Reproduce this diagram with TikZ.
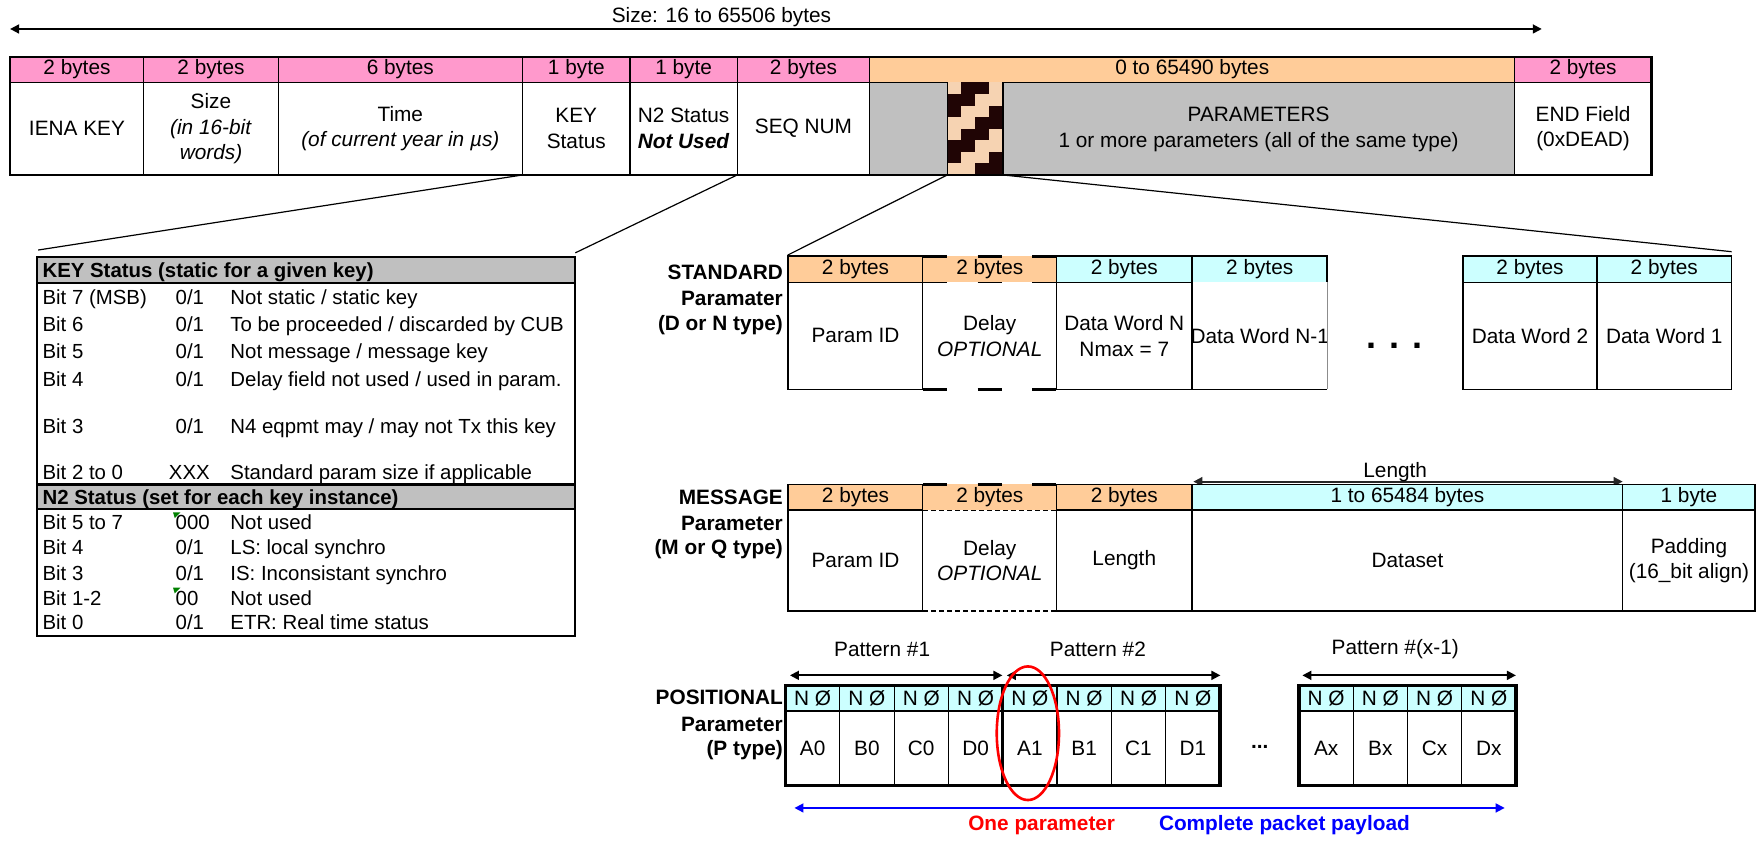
\documentclass[tikz,border=0pt]{standalone}
\usepackage{fontspec}
\setmainfont{Liberation Sans}
\usetikzlibrary{arrows.meta,calc}
\definecolor{hpink}{HTML}{FF99CC}
\definecolor{horange}{HTML}{FFCC99}
\definecolor{hcyan}{HTML}{CCFFFF}
\definecolor{hgray}{HTML}{C0C0C0}
\definecolor{stripdark}{HTML}{200505}
\definecolor{strippeach}{HTML}{F6D3B2}
\definecolor{dblue}{HTML}{0000FF}
\definecolor{dred}{HTML}{FF0000}
\definecolor{xlgreen}{HTML}{008000}
\newcounter{cellc}
% x1 y1 x2 y2 rect-style node-style text
\newcommand\cell[7]{%
  \path[#5] (#1,#2) rectangle (#3,#4);
  \stepcounter{cellc}%
  \node[#6] (cell\arabic{cellc}) at ({(#1+#3)/2},{(#2+#4)/2}) {#7};}
\begin{document}
\begin{tikzpicture}[x=0.5618pt,y=-0.5618pt,
  txt/.style={align=center,inner sep=0pt,font=\fontsize{10.4}{12.7}\selectfont},
  mtxt/.style={txt,font=\fontsize{10.4}{12.9}\selectfont},
  ktxt/.style={anchor=base west,inner sep=0pt,font=\fontsize{10.2}{12}\selectfont},
  ktitle/.style={ktxt,font=\fontsize{10.2}{12}\selectfont\bfseries},
  lbl/.style={anchor=east,inner sep=0pt,align=right,font=\fontsize{10.4}{12}\selectfont\bfseries},
  hP/.style={draw,fill=hpink,line width=0.6pt},
  hO/.style={draw,fill=horange,line width=0.8pt},
  hC/.style={draw,fill=hcyan,line width=0.8pt},
  bW/.style={draw,fill=white,line width=0.8pt},
  conn/.style={line width=0.6pt},
  arr/.style={line width=0.9pt,{Triangle[length=4.5pt,width=4.5pt]}-{Triangle[length=4.5pt,width=4.5pt]}},
  dashthick/.style={line width=1.4pt,dash pattern=on 12pt off 15.2pt},
  dashthin/.style={line width=0.8pt,dash pattern=on 12pt off 15.2pt},
  dashfine/.style={line width=0.6pt,dash pattern=on 2.5pt off 1.5pt},
]
\useasboundingbox (0,0) rectangle (1568,750);

% ---------------- top size arrow
\coordinate (sizeL) at (9,25.8);
\coordinate (sizeR) at (1372,25.8);
\draw[arr] (sizeL) -- (sizeR);
\node[txt] (sizelbl) at (642,14.8) {Size: 16 to 65506 bytes};

% ---------------- main packet table
\cell{9}{50.4}{128}{73.3}{hP}{txt}{2 bytes}
\cell{128}{50.4}{247.5}{73.3}{hP}{txt}{2 bytes}
\cell{247.5}{50.4}{465}{73.3}{hP}{txt}{6 bytes}
\cell{465}{50.4}{560.7}{73.3}{hP}{txt}{1 byte}
\cell{560.7}{50.4}{656}{73.3}{hP}{txt}{1 byte}
\cell{656}{50.4}{774}{73.3}{hP}{txt}{2 bytes}
\cell{774}{50.4}{1348}{73.3}{draw,fill=horange,line width=0.6pt}{txt}{0 to 65490 bytes}
\cell{1348}{50.4}{1469.6}{73.3}{hP}{txt}{2 bytes}
\cell{9}{73.3}{128}{155.7}{draw,line width=0.6pt}{mtxt}{IENA KEY}
\cell{128}{73.3}{247.5}{155.7}{draw,line width=0.6pt}{mtxt}{Size\\\textit{(in 16-bit}\\\textit{words)}}
\cell{247.5}{73.3}{465}{155.7}{draw,line width=0.6pt}{mtxt}{Time\\\textit{(of current year in µs)}}
\cell{465}{73.3}{560.7}{155.7}{draw,line width=0.6pt}{mtxt}{KEY\\Status}
\cell{560.7}{73.3}{656}{155.7}{draw,line width=0.6pt}{mtxt}{N2 Status\\\textbf{\textit{Not Used}}}
\cell{656}{73.3}{774}{155.7}{draw,line width=0.6pt}{mtxt}{SEQ NUM}
\path[draw,fill=hgray,line width=0.6pt] (774,73.3) rectangle (1348,155.7);
\node[mtxt] (params) at (1120,115.5) {PARAMETERS\\1 or more parameters (all of the same type)};
\cell{1348}{73.3}{1469.6}{155.7}{draw,line width=0.6pt}{mtxt}{END Field\\(0xDEAD)}
% patterned strip
\foreach \r in {0,...,7}{\foreach \c in {0,...,3}{%
  \pgfmathtruncatemacro\m{mod(\c+\r,4)}%
  \ifnum\m=1 \def\cc{stripdark}\else\ifnum\m=2 \def\cc{stripdark}\else\def\cc{strippeach}\fi\fi
  \fill[\cc] ({843+\c*12.4},{73.3+\r*10.3}) rectangle ++(12.4,10.3);
}}
\draw[line width=0.8pt] (843,73.3) -- (843,155.7) (892.6,73.3) -- (892.6,155.7);
\draw[line width=1.1pt] (9,50.4) rectangle (1469.6,155.7);

% ---------------- connectors
\coordinate (keyBL) at (465,155.7);
\coordinate (seqBL) at (656,155.7);
\coordinate (stripBL) at (843,155.7);
\coordinate (stripBR) at (892.6,155.7);
\coordinate (ktTL) at (34,222.5);
\coordinate (ktTR) at (512,225);
\coordinate (stdTL) at (701,227);
\coordinate (stdTR) at (1541,224);
\draw[conn] (keyBL) -- (ktTL);
\draw[conn] (seqBL) -- (ktTR);
\draw[conn] (stripBL) -- (stdTL);
\draw[conn] (stripBR) -- (stdTR);

% ---------------- key status table
\fill[hgray] (33,228.6) rectangle (512,252);
\fill[hgray] (33,431) rectangle (512,453);
\draw[line width=1.2pt] (33,252) -- (512,252) (33,431) -- (512,431) (33,453) -- (512,453);
\draw[line width=1pt] (33,228.6) rectangle (512,566);
\node[ktitle] (kt1) at (37.5,246.6) {KEY Status (static for a given key)};
\node[ktitle] (kt2) at (37.5,448.6) {N2 Status (set for each key instance)};
\foreach \yy/\a/\b/\bx/\t [count=\k] in {
  264/Bit 7 (MSB)/0\slash 1/156/Not static \slash\ static key,
  288/Bit 6/0\slash 1/156/To be proceeded \slash\ discarded by CUB,
  312/Bit 5/0\slash 1/156/Not message \slash\ message key,
  337/Bit 4/0\slash 1/156/Delay field not used \slash\ used in param.,
  379/Bit 3/0\slash 1/156/N4 eqpmt may \slash\ may not Tx this key,
  420/Bit 2 to 0/XXX/150/Standard param size if applicable,
  465/Bit 5 to 7/000/156/Not used,
  487/Bit 4/0\slash 1/156/LS: local synchro,
  510/Bit 3/0\slash 1/156/IS: Inconsistant synchro,
  532/Bit 1-2/00/156/Not used,
  554/Bit 0/0\slash 1/156/ETR: Real time status}{
  \node[ktxt] (kra\k) at (37.5,\yy+6.6) {\a};
  \node[ktxt] (krb\k) at (\bx,\yy+6.6) {\b};
  \node[ktxt] (krc\k) at (204.7,\yy+6.6) {\t};
}
\fill[xlgreen] (154,456) -- (160.5,456) -- (155.5,461) -- cycle;
\fill[xlgreen] (154,523) -- (160.5,523) -- (155.5,528) -- cycle;

% ---------------- STANDARD parameter
\node[lbl] (stdl1) at (697,242.6) {STANDARD};
\node[lbl] (stdl2) at (697,266) {Paramater};
\node[lbl] (stdl3) at (697,289) {(D or N type)};
\cell{701}{228}{821.6}{251.3}{hO}{txt}{2 bytes}
\cell{701}{251.3}{821.6}{346.5}{bW}{txt}{Param ID}
\cell{821.6}{228}{940}{251.3}{fill=horange}{txt}{2 bytes}
\cell{821.6}{251.3}{940}{346.5}{fill=white}{txt}{Delay\\\textit{OPTIONAL}}
\draw[dashthick] (821.6,228) -- (940,228);
\draw[dashthin] (821.6,251.3) -- (940,251.3);
\draw[dashthick] (821.6,346.5) -- (940,346.5);
\cell{940}{228}{1061}{251.3}{hC}{txt}{2 bytes}
\cell{940}{251.3}{1061}{346.5}{bW}{txt}{Data Word N\\Nmax = 7}
\cell{1061}{228}{1181}{251.3}{hC}{txt}{2 bytes}
\cell{1061}{251.3}{1181}{346.5}{fill=white}{txt}{Data Word N-1}
\draw[line width=0.8pt] (1061,251.3) -- (1061,346.5) -- (1181,346.5);
\draw[line width=0.6pt,black!45] (1181,251.3) -- (1181,346.5);
\cell{1302}{228}{1421}{251.3}{hC}{txt}{2 bytes}
\cell{1302}{251.3}{1421}{346.5}{bW}{txt}{Data Word 2}
\cell{1421}{228}{1541}{251.3}{hC}{txt}{2 bytes}
\cell{1421}{251.3}{1541}{346.5}{bW}{txt}{Data Word 1}
\node[inner sep=0pt,font=\fontsize{18}{18}\selectfont\bfseries] (stddots) at (1241,308) {. . .};

% ---------------- MESSAGE parameter
\node[lbl] (msgl1) at (697,443) {MESSAGE};
\node[lbl] (msgl2) at (697,466) {Parameter};
\node[lbl] (msgl3) at (697,488.6) {(M or Q type)};
\coordinate (lenL) at (1062,428.6);
\coordinate (lenR) at (1444,428.6);
\draw[arr,black!85] (lenL) -- (lenR);
\node[txt] (lenlbl) at (1241.6,420) {Length};
\cell{701}{431}{821.6}{454}{hO}{txt}{2 bytes}
\cell{701}{454}{821.6}{543.7}{bW}{txt}{Param ID}
\cell{821.6}{431}{940}{454}{fill=horange}{txt}{2 bytes}
\cell{821.6}{454}{940}{543.7}{fill=white}{txt}{Delay\\\textit{OPTIONAL}}
\draw[dashthick] (821.6,431) -- (940,431);
\draw[dashfine] (821.6,454) -- (940,454);
\draw[dashfine] (821.6,543.7) -- (940,543.7);
\cell{940}{431}{1061}{454}{hO}{txt}{2 bytes}
\cell{940}{454}{1061}{543.7}{bW}{txt}{Length}
\cell{1061}{431}{1444}{454}{hC}{txt}{1 to 65484 bytes}
\cell{1061}{454}{1444}{543.7}{bW}{txt}{Dataset}
\cell{1444}{431}{1562}{454}{hC}{txt}{1 byte}
\cell{1444}{454}{1562}{543.7}{bW}{txt}{Padding\\(16\_bit align)}

% ---------------- POSITIONAL parameter
\node[lbl] (posl1) at (697,621) {POSITIONAL};
\node[lbl] (posl2) at (697,645) {Parameter};
\node[lbl] (posl3) at (697,667.5) {(P type)};
\node[txt] (pat1) at (785,578) {Pattern \#1};
\node[txt] (pat2) at (977,578) {Pattern \#2};
\node[txt] (pat3) at (1241.6,578) {Pattern \#(x-1)};
\coordinate (p1a) at (703,601); \coordinate (p1b) at (892,601);
\coordinate (p2a) at (896,601); \coordinate (p2b) at (1086,601);
\coordinate (p3a) at (1159,601); \coordinate (p3b) at (1349,601);
\draw[arr] (p1a) -- (p1b);
\draw[arr] (p2a) -- (p2b);
\draw[arr] (p3a) -- (p3b);
\foreach \t [count=\i from 0] in {A0,B0,C0,D0,A1,B1,C1,D1}{
  \pgfmathsetmacro\xa{699+\i*48.33}\pgfmathsetmacro\xb{\xa+48.33}
  \cell{\xa}{610}{\xb}{633}{hC,line width=0.6pt}{txt}{N Ø}
  \cell{\xa}{633}{\xb}{699}{bW,line width=0.6pt}{txt}{\t}
}
\foreach \t [count=\i from 0] in {Ax,Bx,Cx,Dx}{
  \pgfmathsetmacro\xa{1156+\i*48.25}\pgfmathsetmacro\xb{\xa+48.25}
  \cell{\xa}{610}{\xb}{633}{hC,line width=0.6pt}{txt}{N Ø}
  \cell{\xa}{633}{\xb}{699}{bW,line width=0.6pt}{txt}{\t}
}
\draw[line width=1.1pt] (699,633) -- (1085.6,633) (1156,633) -- (1349,633);
\draw[line width=1.6pt] (699,610) rectangle (1085.6,699);
\draw[line width=1.6pt] (892.3,610) -- (892.3,699);
\draw[line width=1.6pt] (1156,610) rectangle (1349,699);
\node[anchor=base,inner sep=0pt,font=\fontsize{10.4}{12}\selectfont\bfseries] (posdots) at (1121,666) {...};
\path (914.7,652.5) coordinate (ellc);
\draw[dred,line width=1.3pt] (ellc) ellipse [x radius=15.56pt,y radius=33.4pt];
\coordinate (bL) at (707,719);
\coordinate (bR) at (1339,719);
\draw[arr,dblue,line width=0.8pt] (bL) -- (bR);
\node[txt,font=\fontsize{10.4}{12}\selectfont\bfseries,text=dred] (onep) at (927,734.5) {One parameter};
\node[txt,font=\fontsize{10.4}{12}\selectfont\bfseries,text=dblue] (cpp) at (1143,734.5) {Complete packet payload};
\end{tikzpicture}
\end{document}
